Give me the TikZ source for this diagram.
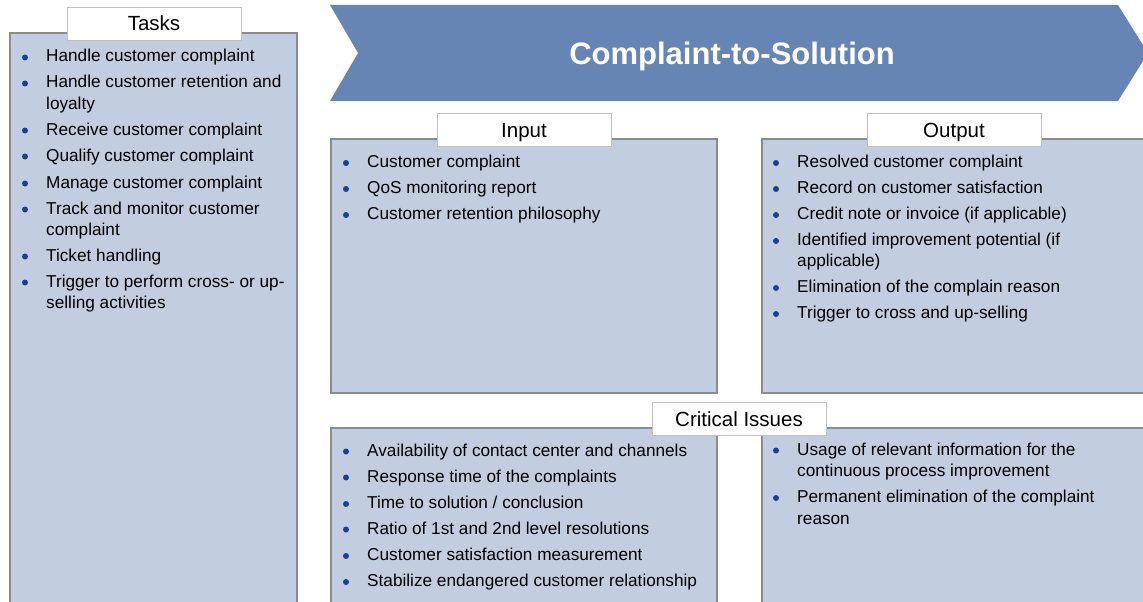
\documentclass[tikz,border=0pt]{standalone}
\usepackage{fontspec}
\setmainfont{Liberation Sans}
\definecolor{panelfill}{HTML}{C3CDE0}
\definecolor{panelline}{HTML}{8C8C8C}
\definecolor{labelline}{HTML}{C0C0C0}
\definecolor{banner}{HTML}{6685B4}
\definecolor{dotcol}{HTML}{1C3F94}
\tikzset{
  panel/.style={fill=panelfill,draw=panelline,line width=1.3pt},
  labelbox/.style={fill=white,draw=labelline,line width=0.9pt,inner sep=0pt,
    minimum width=174pt,minimum height=33pt,text height=15pt,text depth=0pt,
    font=\fontsize{20.5}{24}\selectfont},
  txt/.style={anchor=base west,inner sep=0pt,font=\fontsize{17.2}{21}\selectfont},
  bul/.style={circle,fill=dotcol,inner sep=0pt,minimum size=6pt},
}
\newcommand\bitem[4]{\node[bul] (#3b) at ({#1-21},{#2-4.5}) {};\node[txt] (#3) at (#1,#2) {#4};}
\newcommand\bcont[4]{\node[txt] (#3) at (#1,#2) {#4};}
\begin{document}
\begin{tikzpicture}[x=1pt,y=-1pt]
\useasboundingbox (0,0) rectangle (1143,602);
\begin{scope}
\clip (0,0) rectangle (1143,602);
% banner
\fill[banner] (330,5) -- (1118,5) -- (1148,53) -- (1118,101) -- (330,101) -- (358,53) -- cycle;
\node[text=white,font=\bfseries\fontsize{31}{36}\selectfont,inner sep=0pt,anchor=base] (title) at (732,65) {Complaint-to-Solution};
% panels
\draw[panel] (10,33) rectangle (297,610);
\draw[panel] (331,139) rectangle (717,393);
\draw[panel] (762,139) rectangle (1150,393);
\draw[panel] (331,428) rectangle (717,610);
\draw[panel] (762,428) rectangle (1150,610);
\end{scope}
% labels
\node[labelbox] (tasks) at (154,23.5) {Tasks};
\node[labelbox] (input) at (524,129.5) {Input};
\node[labelbox] (output) at (954,129.5) {Output};
\node[labelbox] (crit) at (739,418.5) {Critical Issues};
% tasks
\bitem{46}{62}{t1}{Handle customer complaint}
\bitem{46}{88}{t2}{Handle customer retention and}
\bcont{46}{109}{t2a}{loyalty}
\bitem{46}{135}{t3}{Receive customer complaint}
\bitem{46}{161}{t4}{Qualify customer complaint}
\bitem{46}{188}{t5}{Manage customer complaint}
\bitem{46}{214}{t6}{Track and monitor customer}
\bcont{46}{235}{t6a}{complaint}
\bitem{46}{261}{t7}{Ticket handling}
\bitem{46}{287}{t8}{Trigger to perform cross- or up-}
\bcont{46}{308}{t8a}{selling activities}
% input
\bitem{367}{167.5}{i1}{Customer complaint}
\bitem{367}{193.5}{i2}{QoS monitoring report}
\bitem{367}{219.5}{i3}{Customer retention philosophy}
% output
\bitem{797}{167.5}{o1}{Resolved customer complaint}
\bitem{797}{193.5}{o2}{Record on customer satisfaction}
\bitem{797}{219.5}{o3}{Credit note or invoice (if applicable)}
\bitem{797}{245.5}{o4}{Identified improvement potential (if}
\bcont{797}{266.5}{o4a}{applicable)}
\bitem{797}{292.5}{o5}{Elimination of the complain reason}
\bitem{797}{318.5}{o6}{Trigger to cross and up-selling}
% critical left
\bitem{367}{456}{c1}{Availability of contact center and channels}
\bitem{367}{482}{c2}{Response time of the complaints}
\bitem{367}{508.5}{c3}{Time to solution / conclusion}
\bitem{367}{534}{c4}{Ratio of 1st and 2nd level resolutions}
\bitem{367}{560.5}{c5}{Customer satisfaction measurement}
\bitem{367}{586.5}{c6}{Stabilize endangered customer relationship}
% critical right
\bitem{797}{455}{r1}{Usage of relevant information for the}
\bcont{797}{476.5}{r1a}{continuous process improvement}
\bitem{797}{502.5}{r2}{Permanent elimination of the complaint}
\bcont{797}{524}{r2a}{reason}
\end{tikzpicture}
\end{document}
